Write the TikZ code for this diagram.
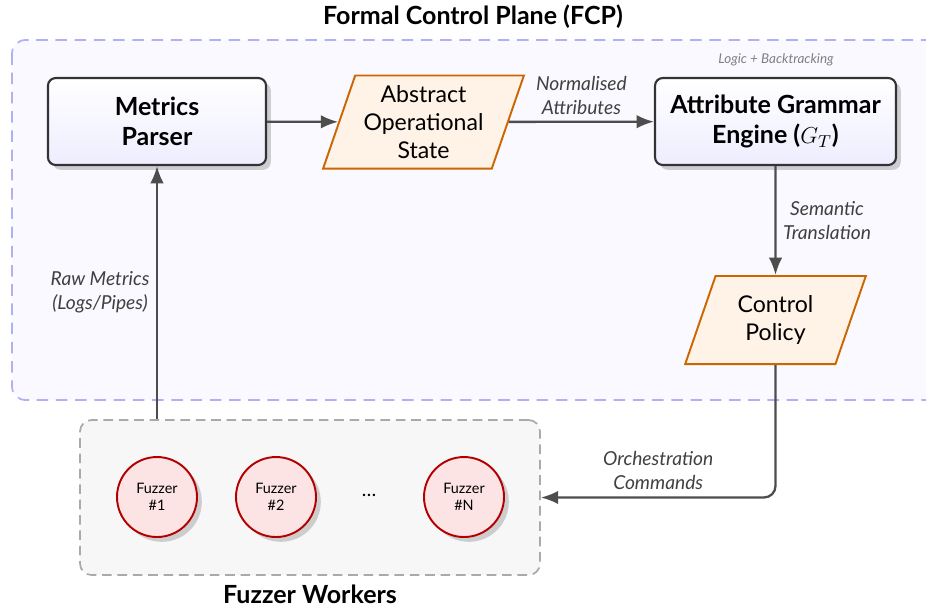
\documentclass[tikz,border=0pt]{standalone}
\usepackage{fontspec}
\setmainfont{Lato}
\usetikzlibrary{shapes.geometric,shadows,arrows.meta}

\definecolor{planefill}{RGB}{249,249,255}
\definecolor{planeline}{RGB}{176,176,245}
\definecolor{workfill}{RGB}{247,247,247}
\definecolor{workline}{RGB}{170,170,170}
\definecolor{statefill}{RGB}{255,242,230}
\definecolor{stateline}{RGB}{204,102,0}
\definecolor{fuzzfill}{RGB}{253,228,228}
\definecolor{fuzzline}{RGB}{178,0,0}
\definecolor{flowgray}{RGB}{77,77,77}

\tikzset{
  block/.style={draw=black!80, line width=1.1pt, rounded corners=4pt,
    top color=white, bottom color=blue!7,
    drop shadow={shadow xshift=2.5pt, shadow yshift=-2.5pt, opacity=0.35},
    align=center, font=\bfseries\fontsize{13}{15.5}\selectfont},
  datastate/.style={trapezium, trapezium left angle=70, trapezium right angle=110,
    trapezium stretches=true, draw=stateline, fill=statefill, line width=1pt,
    align=center, font=\fontsize{12}{14.5}\selectfont},
  fuzzer/.style={circle, draw=fuzzline, fill=fuzzfill, line width=1pt,
    minimum size=41.6pt, inner sep=0pt, align=center,
    drop shadow={shadow xshift=2.5pt, shadow yshift=-2.5pt, opacity=0.35},
    font=\fontsize{7.5}{8.8}\selectfont},
  flow/.style={draw=flowgray, line width=1.2pt, -{Latex[length=9pt,width=7pt]}},
  lbl/.style={text=black!75, align=center, font=\itshape\fontsize{10}{12.5}\selectfont},
}

\begin{document}
\begin{tikzpicture}[x=0.52pt, y=-0.52pt]
  \useasboundingbox (0,0) rectangle (926,610);

  % Planes
  \draw[planeline, fill=planefill, dashed, line width=0.9pt, dash pattern=on 6pt off 4pt,
    rounded corners=7pt] (12,40) rectangle (945,400);
  \node[font=\bfseries\fontsize{13}{15}\selectfont] (fcp) at (473,17) {Formal Control Plane (FCP)};

  \node[draw=workline, fill=workfill, dashed, line width=0.9pt, dash pattern=on 5pt off 3pt,
    rounded corners=6pt, minimum width=239.2pt, minimum height=80.6pt] (workers) at (310,497.5) {};
  \node[font=\bfseries\fontsize{13}{15}\selectfont] (wlabel) at (310,594) {Fuzzer Workers};

  % Blocks
  \node[block, minimum width=113.4pt, minimum height=45.2pt] (parser) at (157,121.5) {Metrics\\Parser};
  \node[datastate, minimum width=104.5pt, minimum height=48.4pt] (state) at (423.5,122) {Abstract\\Operational\\State};
  \node[block, minimum width=125.3pt, minimum height=45.2pt] (engine) at (775.5,121.5) {Attribute Grammar\\Engine ($G_T$)};
  \node[text=black!50, font=\itshape\fontsize{7}{8}\selectfont] (note) at (776,60) {Logic + Backtracking};
  \node[datastate, minimum width=94.1pt, minimum height=45.8pt] (policy) at (775.5,320) {Control\\Policy};

  % Fuzzers
  \node[fuzzer] (f1) at (157,497) {Fuzzer\\\#1};
  \node[fuzzer] (f2) at (276,497) {Fuzzer\\\#2};
  \node (dots) at (369,495) {\ldots};
  \node[fuzzer] (fn) at (464,497) {Fuzzer\\\#N};

  % Flows
  \draw[flow] (parser) -- (state);
  \draw[flow] (state) -- node[above, lbl] {Normalised\\Attributes} (engine);
  \draw[flow] (engine) -- node[right, lbl] {Semantic\\Translation} (policy);
  \draw[flow, rounded corners=6pt] (policy.south) |- node[pos=0.75, above, lbl] {Orchestration\\Commands} (workers.east);
  \draw[flow] (workers.north -| parser) -- node[left, lbl] {Raw Metrics\\(Logs/Pipes)} (parser);
\end{tikzpicture}
\end{document}
